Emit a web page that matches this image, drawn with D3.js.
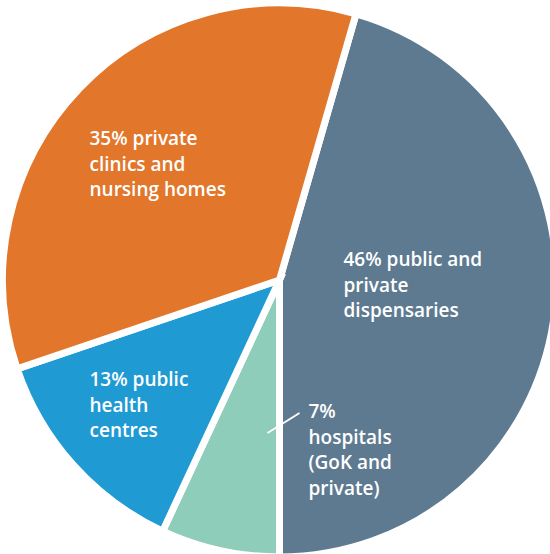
<!DOCTYPE html>
<html>
<head>
<meta charset="utf-8">
<script src="https://cdn.jsdelivr.net/npm/d3@7"></script>
<style>
  body { margin: 0; background: #fff; }
  svg text { font-family: "Open Sans", "Liberation Sans", sans-serif; font-weight: 600; fill: #fff; }
</style>
</head>
<body>
<div id="chart"></div>
<script>
// Chart data (clockwise from the top-right boundary)
const categories = ["public and private dispensaries", "hospitals (GoK and private)", "public health centres", "private clinics and nursing homes"];
const shares = [46, 7, 13, 35];
const colors = ["#5e7a91", "#8fcdbb", "#1f9ad3", "#e2762b"];
const labelLines = [
    ["46% public and", "private", "dispensaries"],
    ["7%", "hospitals", "(GoK and", "private)"],
    ["13% public", "health", "centres"],
    ["35% private", "clinics and", "nursing homes"]
];

const width = 550, height = 554;
const cx = 279.5, cy = 280, radius = 277;

const svg = d3.select("#chart").append("svg")
    .attr("width", width)
    .attr("height", height);

const g = svg.append("g").attr("transform", `translate(${cx},${cy})`);

const data = shares.map((v, i) => ({ name: categories[i], value: v, color: colors[i], lines: labelLines[i] }));

// start so that the dispensaries / hospitals boundary falls straight down
const total = d3.sum(shares);
const start = Math.PI - (shares[0] / total) * 2 * Math.PI;

const pie = d3.pie().sort(null).value(d => d.value)
    .startAngle(start).endAngle(start + 2 * Math.PI);
const arc = d3.arc().innerRadius(0).outerRadius(radius);

g.selectAll("path.slice")
    .data(pie(data))
    .enter().append("path")
    .attr("class", "slice")
    .attr("d", arc)
    .attr("fill", d => d.data.color)
    .attr("stroke", "#fff")
    .attr("stroke-width", 7)
    .attr("stroke-linejoin", "miter");

// label anchor (left x, first-line baseline) relative to the centre
const labelPos = [[64, -14], [29, 138], [-190, 106], [-190, -135]];
const lineHeight = 25.7;

const labels = g.selectAll("text.lbl")
    .data(data)
    .enter().append("text")
    .attr("class", "lbl")
    .attr("x", (d, i) => labelPos[i][0])
    .attr("y", (d, i) => labelPos[i][1])
    .style("font-size", "19px");

labels.selectAll("tspan")
    .data(d => d.lines.map(t => ({ t })))
    .enter().append("tspan")
    .attr("x", function () { return d3.select(this.parentNode).attr("x"); })
    .attr("dy", (d, i) => i === 0 ? 0 : lineHeight)
    .text(d => d.t);

// leader line for the small hospitals slice
g.append("line")
    .attr("x1", -12).attr("y1", 153)
    .attr("x2", 20).attr("y2", 133)
    .attr("stroke", "#fff")
    .attr("stroke-width", 2);
</script>
</body>
</html>
